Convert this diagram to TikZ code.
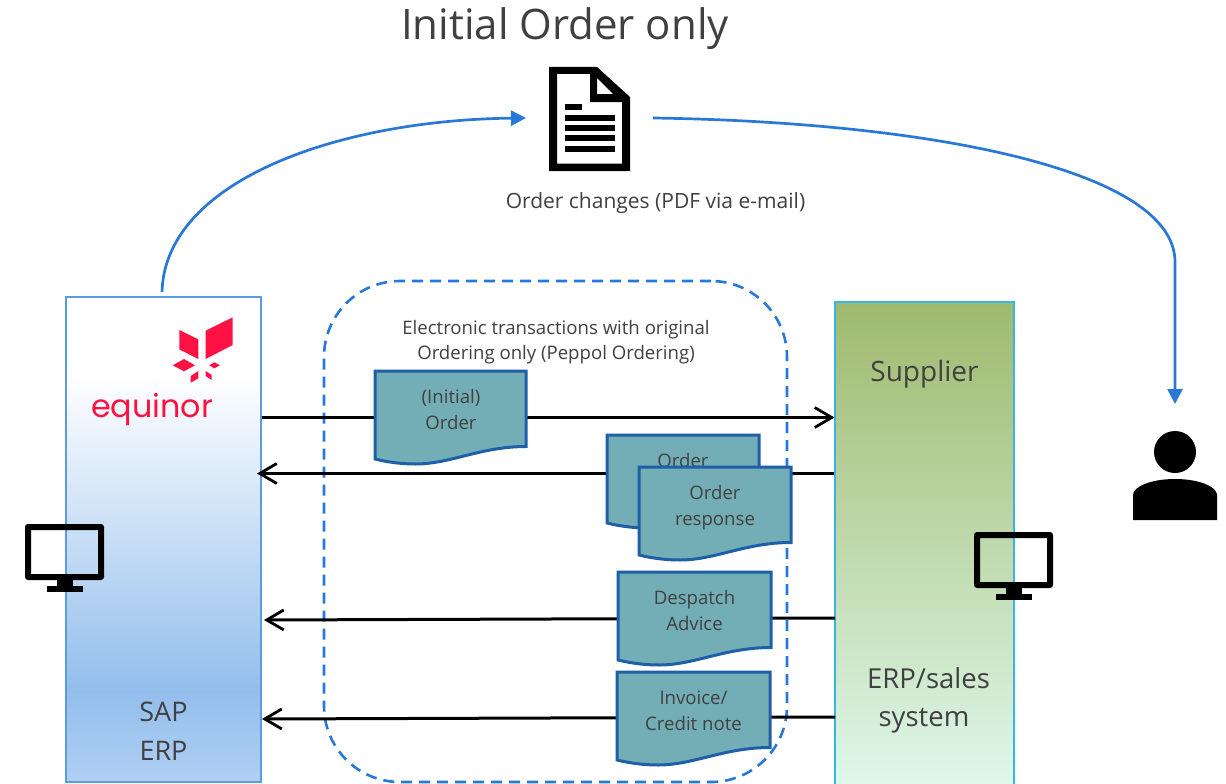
\documentclass[tikz,border=0pt]{standalone}
\usepackage{fontspec}
\setmainfont{Open Sans}
\newfontfamily\logofont{Poppins}
\usetikzlibrary{arrows.meta}
\definecolor{txt}{HTML}{404040}
\definecolor{curveblue}{HTML}{2878D8}
\definecolor{docfill}{HTML}{73AEB6}
\definecolor{docedge}{HTML}{1F5FA8}
\definecolor{logored}{HTML}{FF1243}
\definecolor{lboxedge}{HTML}{5B9BE0}
\definecolor{rboxedge}{HTML}{35B6E6}
\definecolor{ltop}{HTML}{FFFFFF}
\definecolor{lmid}{HTML}{93BEEC}
\definecolor{lbot}{HTML}{B0CFF3}
\definecolor{rtop}{HTML}{9FBA6E}
\definecolor{rbot}{HTML}{E0F8EC}
\pgfdeclareverticalshading{leftgrad}{100bp}{color(0bp)=(lbot); color(25bp)=(lbot); color(34.5bp)=(lmid); color(67bp)=(ltop); color(100bp)=(ltop)}
\pgfdeclareverticalshading{rightgrad}{100bp}{color(0bp)=(rbot); color(25bp)=(rbot); color(75bp)=(rtop); color(100bp)=(rtop)}
\tikzset{
  every node/.style={text=txt,font=\fontsize{18.6}{24}\selectfont,align=center,inner sep=0pt},
  sysbox/.style={rectangle,draw,line width=1.1pt},
  flow/.style={draw=black,line width=3pt,-{Straight Barb[length=17pt,width=20pt,line width=2.8pt]}},
  bluecurve/.style={draw=curveblue,line width=2.7pt,-{Triangle[length=15pt,width=15pt]}},
  docshape/.style={fill=docfill,draw=docedge,line width=3pt,line join=miter},
  doclabel/.style={rectangle,minimum width=150pt,minimum height=70pt},
  icon/.style={fill=black,draw=none,even odd rule},
  logoshape/.style={fill=logored,draw=none,line join=round},
  dashbox/.style={draw=curveblue,line width=2.6pt,dash pattern=on 11pt off 7pt,rounded corners=76pt},
  big/.style={font=\fontsize{28}{38}\selectfont}
}
% x, y top-left, width: right side +75.5, dip +93, left side +88
\newcommand{\docpath}[3]{%
  \pgfmathsetmacro{\dw}{#3}%
  \pgfmathsetmacro{\dwa}{0.70*#3}%
  \pgfmathsetmacro{\dwb}{0.50*#3}%
  \pgfmathsetmacro{\dwc}{0.27*#3}%
  \pgfmathsetmacro{\dwd}{0.17*#3}%
  \pgfmathsetmacro{\dwe}{0.08*#3}%
  \begin{scope}[shift={(#1,#2)}]
  \path[docshape] (0,0) -- (\dw,0) -- (\dw,75.5)
    .. controls (\dwa,75.5) and (\dwb,93) .. (\dwc,93)
    .. controls (\dwd,93) and (\dwe,91) .. (0,88) -- cycle;
  \end{scope}}
\begin{document}
\begin{tikzpicture}[x=1pt,y=-1pt]
\useasboundingbox (0,0) rectangle (1226,784);
\fill[white] (0,0) rectangle (1226,784);

% systems
\node[sysbox,draw=lboxedge,shading=leftgrad,minimum width=195pt,minimum height=485pt] (sap) at (163.5,539.5) {};
\node[sysbox,draw=rboxedge,shading=rightgrad,minimum width=179pt,minimum height=490pt] (erp) at (924.5,547) {};

% dashed frame
\node[dashbox,rectangle,minimum width=463pt,minimum height=501pt] (frame) at (555.5,531.5) {};

% free ends
\coordinate (despatchend) at (264,620);
\coordinate (invoiceend) at (262,719);
\coordinate (orderrespend) at (257,473.5);
\coordinate (despatchstart) at (835,618);
\coordinate (invoicestart) at (835,717);
\coordinate (userin) at (1175,404);
\coordinate (docin) at (526,118);
\coordinate (docout) at (653,118);
\coordinate (sapout) at (162,292);

% connectors
\draw[flow] (sap.east |- 0,417.5) -- (erp.west |- 0,417.5);
\draw[flow] (erp.west |- orderrespend) -- (orderrespend);
\draw[flow] (despatchstart) -- (despatchend);
\draw[flow] (invoicestart) -- (invoiceend);
\draw[bluecurve] (sapout) .. controls (165,180) and (340,120) .. (docin);
\draw[bluecurve] (docout) .. controls (930,122) and (1175,170) .. (1175,262) -- (userin);

% documents
\docpath{375}{371}{151}
\node[doclabel] (initial) at (451,410) {(Initial)\\[2pt]Order};
\docpath{607}{435}{152}
\node[doclabel] (orderback) at (683,476) {Order\\[2pt]\phantom{response}};
\docpath{639}{467}{152}
\node[doclabel] (orderresp) at (715,508) {Order\\[2pt]response};
\docpath{618}{572}{153}
\node[doclabel] (despatch) at (694.5,611) {Despatch\\[2pt]Advice};
\docpath{617}{672}{153}
\node[doclabel] (invoice) at (693.5,711) {Invoice/\\[2pt]Credit note};

% texts
\node[font=\fontsize{42}{48}\selectfont] (title) at (565,29) {Initial Order only};
\node[font=\fontsize{21}{24}\selectfont] (caption) at (655.5,203) {Order changes (PDF via e-mail)};
\node (frametext) at (556,342) {Electronic transactions with original\\[1pt]Ordering only (Peppol Ordering)};
\node[big] (supplier) at (924.5,374) {Supplier};
\node[big,align=center,font=\fontsize{27.5}{38}\selectfont] (erptext) at (924,700) {\hspace{9pt}ERP/sales\\system};
\node[big,align=center,font=\fontsize{27}{39}\selectfont] (saptext) at (163.5,731) {SAP\\ERP};

% logo
\path[logoshape] (179.3,330) -- (198.3,339.3) -- (198.3,359) -- (179.3,349.3) -- cycle;
\path[logoshape] (205.7,330.7) -- (232.7,317.3) -- (232.7,345) -- (205.7,359) -- cycle;
\path[logoshape] (172.7,365.3) -- (184,359) -- (195,365.3) -- (184,371.3) -- cycle;
\path[logoshape] (209.3,365.3) -- (214.3,362.3) -- (220,365.3) -- (214.3,368.3) -- cycle;
\path[logoshape] (190.7,376) -- (198.3,371) -- (198.3,378.3) -- (190.7,382.7) -- cycle;
\path[logoshape] (205.7,371) -- (211.7,375) -- (211.7,380) -- (205.7,376) -- cycle;
\node[text=logored,font=\logofont\fontsize{31.8}{31}\selectfont] (logotext) at (152,410) {equinor};

% paper icon
\path[icon] (549,67) -- (597,67) -- (630,97) -- (630,171) -- (549,171) -- cycle
  (557,74) -- (590,74) -- (590,102) -- (622,102) -- (622,163.5) -- (557,163.5) -- cycle
  (597,78) -- (613,94) -- (597,94) -- cycle;
\fill[black] (565,104) rectangle (582,110);
\foreach \yy in {115,125,135,146} \fill[black] (565,\yy) rectangle (615,\yy+6);

% monitors
\foreach \mx/\my in {25/524,974/532}{
  \begin{scope}[shift={(\mx,\my)}]
    \path[icon] [rounded corners=3pt] (0,0) rectangle (79,56) [sharp corners] (6,6) rectangle (73,50);
    \fill[black] (32,56) rectangle (47.5,62);
    \fill[black] (21.5,62) rectangle (57.5,68);
  \end{scope}
}

% person
\fill[black] (1175,452) circle (21);
\fill[black] (1133,520) -- (1133,495) .. controls (1133,487) and (1150,479) .. (1175,479)
  .. controls (1200,479) and (1217,487) .. (1217,495) -- (1217,520) -- cycle;
\end{tikzpicture}
\end{document}
